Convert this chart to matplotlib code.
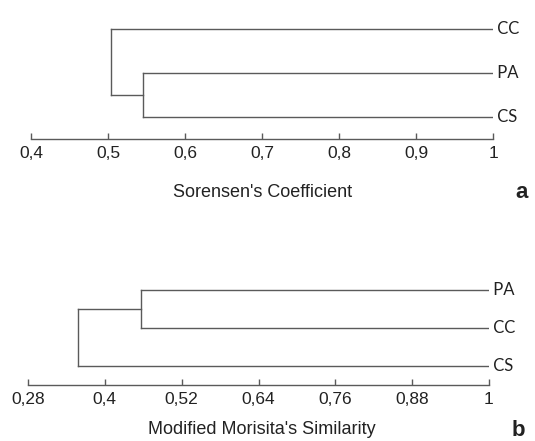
import matplotlib.pyplot as plt

# Panel a: Sorensen's coefficient dendrogram (leaves top to bottom)
a_leaves = ['CC', 'PA', 'CS']
a_inner = 0.545   # PA + CS join
a_root = 0.504    # CC joins
a_ticks = [0.4, 0.5, 0.6, 0.7, 0.8, 0.9, 1.0]
a_ticklabels = ['0,4', '0,5', '0,6', '0,7', '0,8', '0,9', '1']

# Panel b: Modified Morisita's similarity dendrogram
b_leaves = ['PA', 'CC', 'CS']
b_inner = 0.456   # PA + CC join
b_root = 0.358    # CS joins
b_ticks = [0.28, 0.40, 0.52, 0.64, 0.76, 0.88, 1.0]
b_ticklabels = ['0,28', '0,4', '0,52', '0,64', '0,76', '0,88', '1']

W, H = 535, 441
line_col = '#5a5a5a'
lw = 1.0


def draw_panel(ax, leaves, inner, root, ticks, ticklabels, single_on_top):
    # y positions: 2 = top leaf, 0 = bottom leaf
    if single_on_top:
        pair_y = [1, 0]
        single_y = 2
    else:
        pair_y = [2, 1]
        single_y = 0
    pair_mid = sum(pair_y) / 2
    for y in pair_y:
        ax.plot([1.0, inner], [y, y], color=line_col, lw=lw)
    ax.plot([inner, inner], pair_y, color=line_col, lw=lw)
    ax.plot([inner, root], [pair_mid, pair_mid], color=line_col, lw=lw)
    ax.plot([1.0, root], [single_y, single_y], color=line_col, lw=lw)
    ax.plot([root, root], [pair_mid, single_y], color=line_col, lw=lw)

    for i, name in enumerate(leaves):
        ax.text(1.0, 2 - i, ' ' + name, ha='left', va='center',
                fontsize=12, family='Lato', color='#222222', clip_on=False)

    ax.set_xlim(ticks[0], ticks[-1])
    ax.set_ylim(-0.5, 2.5)
    ax.set_xticks(ticks)
    ax.set_xticklabels(ticklabels, fontsize=12.5, family='Liberation Sans',
                       color='#222222')
    ax.set_yticks([])
    for s in ['top', 'right', 'left']:
        ax.spines[s].set_visible(False)
    ax.spines['bottom'].set_color(line_col)
    ax.spines['bottom'].set_linewidth(lw)
    ax.tick_params(axis='x', direction='in', length=4, width=lw,
                   color=line_col, pad=5)


fig = plt.figure(figsize=(W / 100, H / 100), dpi=100)

ax_a = fig.add_axes([31 / W, 1 - 139 / H, 462 / W, 132 / H])
draw_panel(ax_a, a_leaves, a_inner, a_root, a_ticks, a_ticklabels, True)

ax_b = fig.add_axes([28 / W, 1 - 385 / H, 461 / W, 114 / H])
draw_panel(ax_b, b_leaves, b_inner, b_root, b_ticks, b_ticklabels, False)

fig.text(263 / W, 1 - 192 / H, "Sorensen's Coefficient", ha='center',
         va='center', fontsize=13, family='Liberation Sans', color='#222222')
fig.text(522 / W, 1 - 192 / H, 'a', ha='center', va='center', fontsize=16,
         fontweight='bold', family='Liberation Sans', color='#222222')
fig.text(262 / W, 1 - 429 / H, "Modified Morisita's Similarity", ha='center',
         va='center', fontsize=13, family='Liberation Sans', color='#222222')
fig.text(518 / W, 1 - 431 / H, 'b', ha='center', va='center', fontsize=16,
         fontweight='bold', family='Liberation Sans', color='#222222')

fig.savefig('out.png', dpi=100)
